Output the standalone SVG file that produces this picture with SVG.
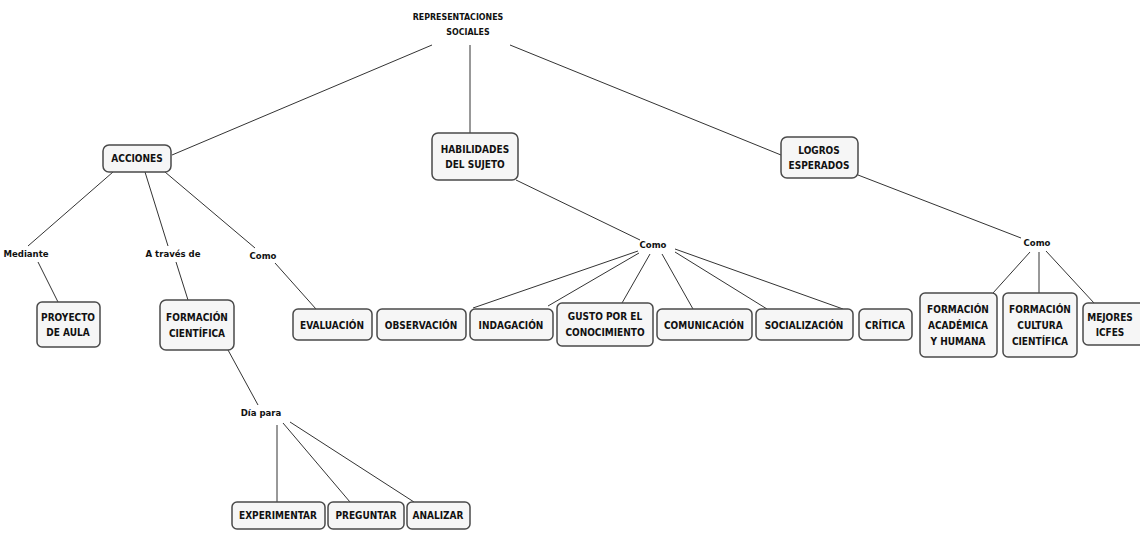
<svg xmlns="http://www.w3.org/2000/svg" width="1140" height="534" viewBox="0 0 1140 534">
  <style>
    .box { fill: #f6f6f6; stroke: #4a4a4a; stroke-width: 1.5; }
    .t { font-family: "DejaVu Sans Condensed", "Liberation Sans", sans-serif; font-size: 10px; font-weight: bold; fill: #111; text-anchor: middle; }
    .title { font-family: "DejaVu Sans Condensed", "Liberation Sans", sans-serif; font-size: 8.8px; font-weight: bold; fill: #111; text-anchor: middle; }
    .lbl { font-family: "DejaVu Sans Condensed", "Liberation Sans", sans-serif; font-size: 9.5px; font-weight: bold; fill: #111; text-anchor: middle; }
    .c line { stroke: #333; stroke-width: 1; }
  </style>
  <rect width="1140" height="534" fill="#fff"/>

  <!-- connectors -->
  <g id="connectors" class="c">
    <line x1="432" y1="45" x2="172" y2="155"/>
    <line x1="470" y1="45" x2="470" y2="133"/>
    <line x1="510" y1="45" x2="781" y2="155"/>
    <line x1="113" y1="172" x2="28" y2="246"/>
    <line x1="145" y1="172" x2="168" y2="246"/>
    <line x1="165" y1="172" x2="255" y2="248"/>
    <line x1="38" y1="262" x2="58" y2="302"/>
    <line x1="176" y1="262" x2="188" y2="300"/>
    <line x1="275" y1="263" x2="316" y2="309"/>
    <line x1="516" y1="180" x2="640" y2="240"/>
    <line x1="638" y1="251" x2="473" y2="308"/>
    <line x1="639" y1="253" x2="548" y2="306"/>
    <line x1="650" y1="254" x2="622" y2="303"/>
    <line x1="662" y1="254" x2="693" y2="309"/>
    <line x1="675" y1="252" x2="767" y2="309"/>
    <line x1="675" y1="249" x2="843" y2="309"/>
    <line x1="858" y1="175" x2="1021" y2="238"/>
    <line x1="1030" y1="252" x2="993" y2="293"/>
    <line x1="1039" y1="252" x2="1039" y2="293"/>
    <line x1="1046" y1="251" x2="1094" y2="303"/>
    <line x1="228" y1="350" x2="258" y2="405"/>
    <line x1="277" y1="425" x2="277" y2="502"/>
    <line x1="283" y1="423" x2="350" y2="502"/>
    <line x1="290" y1="422" x2="414" y2="502"/>
  </g>

  <g id="n-representaciones">
    <text class="title" x="458" y="20">REPRESENTACIONES</text>
    <text class="title" x="468" y="35">SOCIALES</text>
  </g>

  <g id="n-acciones">
    <rect class="box" x="103" y="145" width="68" height="27" rx="6"/>
    <text class="t" x="137" y="162">ACCIONES</text>
  </g>
  <g id="n-habilidades">
    <rect class="box" x="432" y="133" width="86" height="47" rx="6"/>
    <text class="t" x="475" y="153">HABILIDADES</text>
    <text class="t" x="475" y="168">DEL SUJETO</text>
  </g>
  <g id="n-logros">
    <rect class="box" x="781" y="137" width="77" height="41" rx="6"/>
    <text class="t" x="819" y="154">LOGROS</text>
    <text class="t" x="819" y="169">ESPERADOS</text>
  </g>

  <g id="l-mediante"><text class="lbl" x="26" y="257">Mediante</text></g>
  <g id="l-atraves"><text class="lbl" x="173" y="257">A través de</text></g>
  <g id="l-como1"><text class="lbl" x="263" y="259">Como</text></g>
  <g id="l-como2"><text class="lbl" x="653" y="248">Como</text></g>
  <g id="l-como3"><text class="lbl" x="1037" y="246">Como</text></g>
  <g id="l-diapara"><text class="lbl" x="261" y="416">Día para</text></g>

  <g id="n-proyecto">
    <rect class="box" x="37" y="302" width="63" height="45" rx="5"/>
    <text class="t" x="68" y="321">PROYECTO</text>
    <text class="t" x="68" y="336">DE AULA</text>
  </g>
  <g id="n-formacion-cientifica">
    <rect class="box" x="160" y="300" width="74" height="50" rx="6"/>
    <text class="t" x="197" y="321">FORMACIÓN</text>
    <text class="t" x="197" y="337">CIENTÍFICA</text>
  </g>

  <g id="n-evaluacion">
    <rect class="box" x="293" y="309" width="79" height="31" rx="5"/>
    <text class="t" x="332" y="329">EVALUACIÓN</text>
  </g>
  <g id="n-observacion">
    <rect class="box" x="377" y="309" width="89" height="31" rx="5"/>
    <text class="t" x="421" y="329">OBSERVACIÓN</text>
  </g>
  <g id="n-indagacion">
    <rect class="box" x="470" y="309" width="83" height="31" rx="5"/>
    <text class="t" x="511" y="329">INDAGACIÓN</text>
  </g>
  <g id="n-gusto">
    <rect class="box" x="557" y="303" width="96" height="43" rx="5"/>
    <text class="t" x="605" y="320">GUSTO POR EL</text>
    <text class="t" x="605" y="336">CONOCIMIENTO</text>
  </g>
  <g id="n-comunicacion">
    <rect class="box" x="657" y="309" width="95" height="31" rx="5"/>
    <text class="t" x="704" y="329">COMUNICACIÓN</text>
  </g>
  <g id="n-socializacion">
    <rect class="box" x="756" y="309" width="97" height="31" rx="5"/>
    <text class="t" x="804" y="329">SOCIALIZACIÓN</text>
  </g>
  <g id="n-critica">
    <rect class="box" x="859" y="309" width="53" height="31" rx="5"/>
    <text class="t" x="885" y="329">CRÍTICA</text>
  </g>

  <g id="n-formacion-academica">
    <rect class="box" x="920" y="293" width="77" height="64" rx="5"/>
    <text class="t" x="958" y="313">FORMACIÓN</text>
    <text class="t" x="958" y="329">ACADÉMICA</text>
    <text class="t" x="958" y="345">Y HUMANA</text>
  </g>
  <g id="n-formacion-cultura">
    <rect class="box" x="1003" y="293" width="74" height="64" rx="5"/>
    <text class="t" x="1040" y="313">FORMACIÓN</text>
    <text class="t" x="1040" y="329">CULTURA</text>
    <text class="t" x="1040" y="345">CIENTÍFICA</text>
  </g>
  <g id="n-mejores">
    <rect class="box" x="1083" y="303" width="62" height="42" rx="5"/>
    <text class="t" x="1110" y="321">MEJORES</text>
    <text class="t" x="1110" y="336">ICFES</text>
  </g>

  <g id="n-experimentar">
    <rect class="box" x="232" y="502" width="93" height="27" rx="5"/>
    <text class="t" x="278" y="519">EXPERIMENTAR</text>
  </g>
  <g id="n-preguntar">
    <rect class="box" x="328" y="502" width="76" height="27" rx="5"/>
    <text class="t" x="366" y="519">PREGUNTAR</text>
  </g>
  <g id="n-analizar">
    <rect class="box" x="407" y="502" width="63" height="27" rx="5"/>
    <text class="t" x="438" y="519">ANALIZAR</text>
  </g>
</svg>
